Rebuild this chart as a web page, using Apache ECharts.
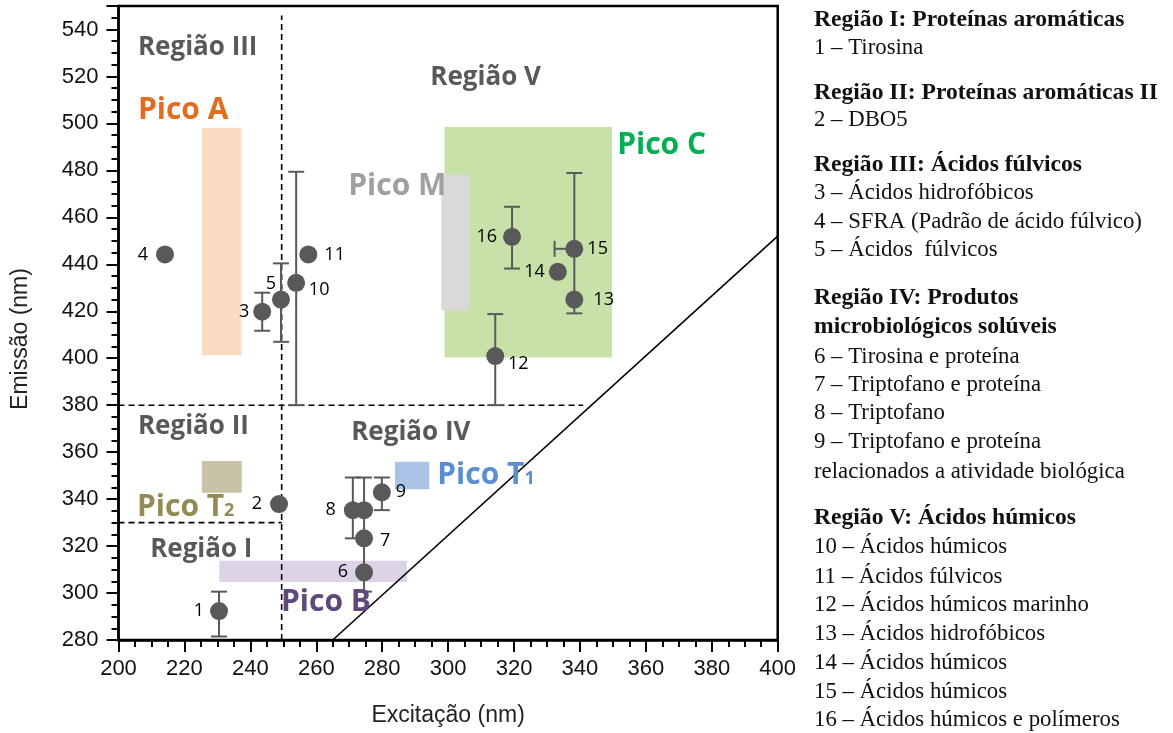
<!DOCTYPE html>
<html><head><meta charset="utf-8">
<script src="https://cdn.jsdelivr.net/npm/echarts/dist/echarts.min.js"></script>
<style>html,body{margin:0;padding:0;background:#fff}#c{width:1173px;height:733px}</style>
</head><body><div id="c"></div>
<script>
// ---- data ----
const pointIds   = ['1','2','3','4','5','6','7','8','','9','10','11','12','13','14','15','16'];
const excitation = [230.5,248.7,243.6,214.1,249.3,274.5,274.5,271.1,274.5,279.9,253.9,257.6,314.3,338.3,333.3,338.3,319.4];
const emission   = [292.3,337.9,419.8,444.2,425.0,308.8,323.3,335.3,335.3,342.9,432.1,444.2,400.9,425.0,436.8,446.6,451.7];
const emLow      = [281.5,null,411.7,null,407.0,null,null,323.3,300.6,335.3,380.0,null,380.0,null,null,419.1,438.2];
const emHigh     = [300.6,null,427.9,null,440.4,null,null,349.2,349.2,349.2,479.4,null,418.8,null,null,478.9,464.5];
const exLow      = [null,null,null,null,null,null,null,null,null,null,null,null,null,null,null,332.3,null];

const peakNames  = ['Pico A','Pico T2','Pico B','Pico T1','Pico C','Pico M'];
const peakExFrom = [225.3,225.3,230.6,283.9,298.9,297.9];
const peakExTo   = [237.3,237.4,287.5,294.3,349.7,306.4];
const peakEmFrom = [401.3,342.7,304.7,344.2,400.3,420.3];
const peakEmTo   = [498.1,356.2,313.8,355.9,498.5,478.4];
const peakLabelAt = [[205.9,505.6],[205.6,336.6],[249.3,295.8],[296.7,350.2],[351.3,490.7],[269.7,473.0]];

const regionNames   = ['Região I','Região II','Região III','Região IV','Região V'];
const regionLabelAt = [[209.6,318.3],[205.9,370.7],[205.9,532.4],[270.6,368.5],[294.6,519.3]];

const boundaries = [[[249.5,280],[249.5,546]],[[200,380],[341,380]],[[200,330],[249.5,330]]];
const scatterLine = [[265,280],[400,452]];

const legendLines = [
  ['h','Região I: Proteínas aromáticas'],
  ['i','1 – Tirosina'],
  ['h','Região II: Proteínas aromáticas II'],
  ['i','2 – DBO5'],
  ['h','Região III: Ácidos fúlvicos'],
  ['i','3 – Ácidos hidrofóbicos'],
  ['i','4 – SFRA (Padrão de ácido fúlvico)'],
  ['i','5 – Ácidos  fúlvicos'],
  ['h','Região IV: Produtos'],
  ['h','microbiológicos solúveis'],
  ['i','6 – Tirosina e proteína'],
  ['i','7 – Triptofano e proteína'],
  ['i','8 – Triptofano'],
  ['i','9 – Triptofano e proteína'],
  ['i','relacionados a atividade biológica'],
  ['h','Região V: Ácidos húmicos'],
  ['i','10 – Ácidos húmicos'],
  ['i','11 – Ácidos fúlvicos'],
  ['i','12 – Ácidos húmicos marinho'],
  ['i','13 – Ácidos hidrofóbicos'],
  ['i','14 – Ácidos húmicos'],
  ['i','15 – Ácidos húmicos'],
  ['i','16 – Ácidos húmicos e polímeros']
];

// ---- styles / layout ----
const legendY = [20,48,93,120,165,193,222,250,298,327,357,385,413,442,472,518,547,577,605,634,663,692,720];
const peakFill = {'Pico A':'#fadcc3','Pico T2':'#c9c3a6','Pico B':'#dcd3e6','Pico T1':'#a8c3e6','Pico C':'#c7e1a9','Pico M':'#d9d9d9'};
const peakText = {'Pico A':'#e46c1e','Pico T2':'#948a54','Pico B':'#5f497a','Pico T1':'#5b8fd0','Pico C':'#00b050','Pico M':'#a0a0a0'};
const labelPlace = {
  '1':['left',6],'2':['left',8],'3':['left',4],'4':['left',8],'5':['inside',0,[-10,-16]],
  '6':['left',7],'7':['inside',0,[21,3]],'8':['left',8],'9':['right',5],'10':['inside',0,[23,7]],
  '11':['right',7],'12':['inside',0,[23,8]],'13':['right',10],'14':['left',4],'15':['right',4],'16':['left',6]
};
const GRAY = '#595959';

const chart = echarts.init(document.getElementById('c'));

const pts = pointIds.map((id,i)=>{
  const o = {value:[excitation[i],emission[i]], name:id};
  const p = labelPlace[id];
  if (p) o.label = {show:true, position:p[0], distance:p[1], offset:p[2]||[0,0]};
  else o.label = {show:false};
  return o;
});

function renderErr(params, api){
  const i = params.dataIndex;
  const st = {stroke:GRAY, lineWidth:2};
  const cap = 8;
  const c = api.coord([excitation[i], emission[i]]);
  const ch = [];
  if (emLow[i]!=null){
    const a = api.coord([excitation[i], emLow[i]]), b = api.coord([excitation[i], emHigh[i]]);
    ch.push({type:'line', shape:{x1:a[0],y1:a[1],x2:b[0],y2:b[1]}, style:st});
    ch.push({type:'line', shape:{x1:a[0]-cap,y1:a[1],x2:a[0]+cap,y2:a[1]}, style:st});
    ch.push({type:'line', shape:{x1:b[0]-cap,y1:b[1],x2:b[0]+cap,y2:b[1]}, style:st});
  }
  if (exLow[i]!=null){
    const a = api.coord([exLow[i], emission[i]]);
    ch.push({type:'line', shape:{x1:a[0],y1:a[1],x2:c[0],y2:c[1]}, style:st});
    ch.push({type:'line', shape:{x1:a[0],y1:a[1]-cap,x2:a[0],y2:a[1]+cap}, style:st});
  }
  return {type:'group', children:ch};
}

function renderRect(params, api){
  const i = params.dataIndex;
  const a = api.coord([peakExFrom[i], peakEmTo[i]]);
  const b = api.coord([peakExTo[i], peakEmFrom[i]]);
  return {type:'rect', shape:{x:a[0], y:a[1], width:b[0]-a[0], height:b[1]-a[1]}, style:{fill:peakFill[peakNames[i]]}};
}

const series = [];
series.push({type:'custom', renderItem:renderRect, data:peakNames.map((n,i)=>[peakExFrom[i],peakEmFrom[i]]), z:1, silent:true});
boundaries.forEach(seg=>{
  series.push({type:'line', data:seg, symbol:'none', lineStyle:{color:'#000', width:1.6, type:[6,4]}, z:2, silent:true});
});
series.push({type:'line', data:scatterLine, symbol:'none', lineStyle:{color:'#000', width:1.6}, z:2, silent:true});
series.push({type:'custom', renderItem:renderErr, data:pointIds.map((id,i)=>[excitation[i],emission[i]]), z:3, silent:true});
series.push({type:'scatter', data:pts, symbolSize:18, itemStyle:{color:GRAY, opacity:1}, z:4,
  label:{color:'#000', fontFamily:'Open Sans', fontSize:18, formatter:p=>p.name}});
// region labels
series.push({type:'scatter', symbolSize:0, z:5, silent:true, itemStyle:{opacity:1},
  data:regionNames.map((n,i)=>({value:regionLabelAt[i], name:n})),
  label:{show:true, position:'right', distance:0, formatter:p=>p.name, color:GRAY, fontFamily:'Open Sans', fontWeight:'bold', fontSize:26}});
// peak labels
series.push({type:'scatter', symbolSize:0, z:5, silent:true, itemStyle:{opacity:1},
  data:peakNames.map((n,i)=>({value:peakLabelAt[i], name:n, label:{color:peakText[n],
     rich:{m:{color:peakText[n], fontFamily:'Open Sans', fontWeight:'bold', fontSize:30},
           s:{color:peakText[n], fontFamily:'Open Sans', fontWeight:'bold', fontSize:18, padding:[7,0,0,0]}}}})),
  label:{show:true, position:'right', distance:0, fontFamily:'Open Sans', fontWeight:'bold', fontSize:30,
    formatter:p=>{const m=p.name.match(/^(Pico T)(\d)$/); return m?('{m|'+m[1]+'}{s|'+m[2]+'}'):('{m|'+p.name+'}');}}});

const graphics = legendLines.map((l,i)=>({type:'text', x:814, y:legendY[i],
  style:{text:l[1], fill:'#111', verticalAlign:'middle', align:'left',
    font:(l[0]==='h'?'bold 23.6px':'22.8px')+' "Liberation Serif", serif'}}));

chart.setOption({
  animation:false,
  grid:{left:118.5, right:395.3, top:6, bottom:93, show:true, borderColor:'#000', borderWidth:2.5},
  xAxis:{type:'value', min:200, max:400, interval:20,
    name:'Excitação (nm)', nameLocation:'middle', nameGap:64,
    nameTextStyle:{fontFamily:'Liberation Sans', fontSize:23, color:'#222'},
    axisLine:{onZero:false, lineStyle:{color:'#000', width:2.5}},
    axisTick:{length:12, lineStyle:{color:'#000', width:2}},
    minorTick:{show:true, splitNumber:4, length:7, lineStyle:{color:'#000', width:2}},
    splitLine:{show:false},
    axisLabel:{fontFamily:'Liberation Sans', fontSize:22, color:'#111', margin:18}},
  yAxis:{type:'value', min:280, max:550, interval:20,
    name:'Emissão (nm)', nameLocation:'middle', nameGap:86,
    nameTextStyle:{fontFamily:'Liberation Sans', fontSize:23, color:'#222', padding:[0,32,0,0]},
    axisLine:{onZero:false, lineStyle:{color:'#000', width:2.5}},
    axisTick:{length:12, lineStyle:{color:'#000', width:2}},
    minorTick:{show:true, splitNumber:4, length:7, lineStyle:{color:'#000', width:2}},
    splitLine:{show:false},
    axisLabel:{fontFamily:'Liberation Sans', fontSize:22, color:'#111', margin:20, showMaxLabel:false}},
  series:series,
  graphic:graphics
});
</script></body></html>
